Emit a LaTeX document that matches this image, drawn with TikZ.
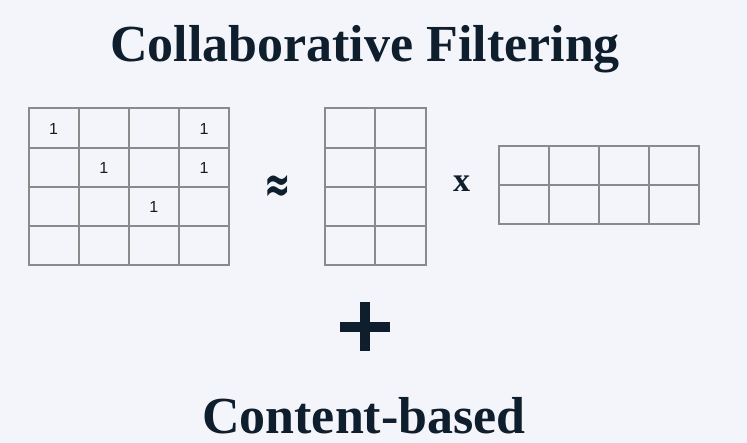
\documentclass[tikz,border=0pt]{standalone}
\usepackage{fontspec}
\setmainfont{Liberation Serif}
\newfontfamily\cellfont{Liberation Sans}
\newfontfamily\symfont{DejaVu Sans}
\definecolor{pagebg}{HTML}{F4F5FA}
\definecolor{ink}{HTML}{0E1E2D}
\definecolor{gridgray}{HTML}{8A8A8A}
\tikzset{
  heading/.style={font=\fontsize{52}{60}\selectfont\bfseries, text=ink, inner sep=0pt, anchor=base, text depth=0pt},
  gridline/.style={draw=gridgray, line width=2pt, line cap=rect},
  entry/.style={font=\cellfont\fontsize{16}{18}\selectfont, text=black!90, inner sep=0pt},
  operator/.style={text=ink, inner sep=0pt},
}
% draws a cols x rows table: \cellgrid{x0}{y0}{cell w}{cell h}{cols}{rows}
\newcommand{\cellgrid}[6]{%
  \foreach \i in {0,...,#5}{\draw[gridline] ({#1+\i*#3},#2) -- ({#1+\i*#3},{#2+#6*#4});}
  \foreach \j in {0,...,#6}{\draw[gridline] (#1,{#2+\j*#4}) -- ({#1+#5*#3},{#2+\j*#4});}
}
\begin{document}
\begin{tikzpicture}[x=1pt,y=-1pt]
\fill[pagebg] (0,0) rectangle (747,443);
\useasboundingbox (0,0) rectangle (747,443);

\node[heading] (title) at (365,62) {Collaborative Filtering};

% rating matrix and its two factors
\cellgrid{28.5}{108.5}{50.125}{39.25}{4}{4}
\cellgrid{325}{108.5}{50.35}{39.25}{2}{4}
\cellgrid{498.5}{146.5}{50.125}{39}{4}{2}

\node[entry] (r11) at (53.5,128.5) {1};
\node[entry] (r14) at (204,128.5) {1};
\node[entry] (r22) at (103.7,167.5) {1};
\node[entry] (r24) at (204,167.5) {1};
\node[entry] (r33) at (153.8,206.8) {1};

\node[operator, font=\symfont\bfseries\fontsize{30}{30}\selectfont, xscale=1.05, yscale=1.75, transform shape] (approx) at (278,189) {≈};
\node[operator, font=\bfseries\fontsize{34}{34}\selectfont, anchor=base] (times) at (461.5,192) {x};

% plus sign
\fill[ink] (340,321.7) rectangle (389.5,331.7);
\fill[ink] (360,301.7) rectangle (369.5,351);

\node[heading] (content) at (364,434) {Content-based};
\end{tikzpicture}
\end{document}
